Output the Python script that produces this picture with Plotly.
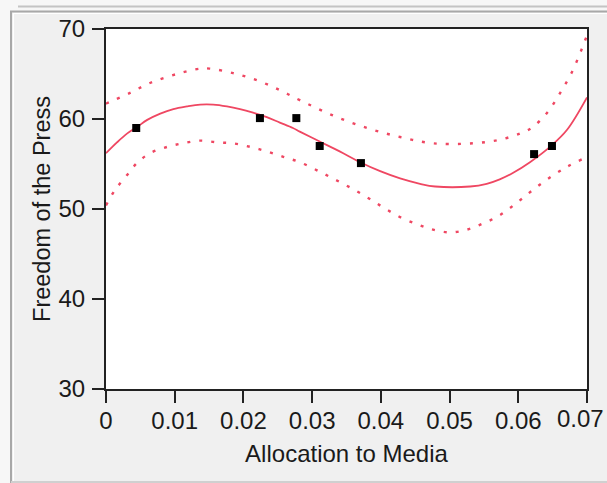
import plotly.graph_objects as go

# ---- data ----
media_x = [0.0044, 0.0224, 0.0277, 0.0311, 0.0371, 0.0623, 0.0649]
press_y = [59.0, 60.1, 60.1, 57.0, 55.1, 56.1, 57.0]

fit_x = [0.0, 0.0016, 0.0031, 0.0045, 0.0060, 0.0079, 0.0098, 0.0118, 0.0137, 0.0156,
         0.0176, 0.0195, 0.0214, 0.0234, 0.0253, 0.0272, 0.0282, 0.0311, 0.0340, 0.0370,
         0.0399, 0.0428, 0.0457, 0.0479, 0.0530, 0.0554, 0.0573, 0.0592, 0.0617, 0.0649,
         0.0671, 0.0700]
fit_y = [56.2, 57.4, 58.4, 59.1, 59.9, 60.6, 61.1, 61.4, 61.6, 61.6,
         61.4, 61.1, 60.7, 60.2, 59.6, 59.0, 58.6, 57.5, 56.4, 55.2,
         54.2, 53.4, 52.8, 52.5, 52.5, 52.8, 53.3, 54.0, 55.2, 57.1,
         58.8, 62.4]

upper_x = [0.0, 0.0006, 0.0035, 0.0064, 0.0103, 0.0137, 0.0151, 0.0185, 0.0220, 0.0253,
           0.0282, 0.0330, 0.0380, 0.0428, 0.0476, 0.0534, 0.0573, 0.0603, 0.0621, 0.0643,
           0.0661, 0.0678, 0.0693, 0.0700]
upper_y = [61.7, 61.9, 62.9, 64.0, 65.0, 65.6, 65.6, 65.1, 64.3, 63.2,
           62.1, 60.4, 59.0, 58.0, 57.3, 57.3, 57.7, 58.4, 59.1, 60.8,
           62.9, 65.2, 67.9, 69.3]

lower_x = [0.0, 0.0013, 0.0031, 0.0045, 0.0064, 0.0089, 0.0112, 0.0137, 0.0162, 0.0185,
           0.0210, 0.0234, 0.0258, 0.0282, 0.0307, 0.0330, 0.0355, 0.0380, 0.0403, 0.0428,
           0.0453, 0.0476, 0.0501, 0.0525, 0.0549, 0.0573, 0.0598, 0.0621, 0.0646, 0.0671,
           0.0695]
lower_y = [50.4, 52.1, 53.8, 55.1, 56.2, 56.9, 57.3, 57.6, 57.4, 57.3,
           56.9, 56.4, 55.8, 55.2, 54.3, 53.4, 52.4, 51.3, 50.2, 49.1,
           48.3, 47.7, 47.4, 47.7, 48.4, 49.3, 50.7, 52.1, 53.5, 54.7,
           55.6]

x_tickvals = [0, 0.01, 0.02, 0.03, 0.04, 0.05, 0.06, 0.07]
x_ticktext = ["0", "0.01", "0.02", "0.03", "0.04", "0.05", "0.06", "0.07"]
y_tickvals = [30, 40, 50, 60, 70]
y_ticktext = ["30", "40", "50", "60", "70"]

x_title = "Allocation to Media"
y_title = "Freedom of the Press"

# ---- figure ----
RED = "#ef4762"
FONT = "Liberation Sans, Arial, sans-serif"
FS = 24
INK = "#1a1a1a"
W, H = 607, 483
L, R, T, B = 106, 20, 29, 94

fig = go.Figure()
fig.add_trace(go.Scatter(x=upper_x, y=upper_y, mode="lines", line_shape="spline",
                         line=dict(color=RED, width=2.4, dash="3px,9px"),
                         hoverinfo="skip", showlegend=False))
fig.add_trace(go.Scatter(x=lower_x, y=lower_y, mode="lines", line_shape="spline",
                         line=dict(color=RED, width=2.4, dash="3px,9px"),
                         hoverinfo="skip", showlegend=False))
fig.add_trace(go.Scatter(x=fit_x, y=fit_y, mode="lines", line_shape="spline",
                         line=dict(color=RED, width=1.8),
                         showlegend=False))
fig.add_trace(go.Scatter(x=media_x, y=press_y, mode="markers",
                         marker=dict(symbol="square", size=8, color="black",
                                     line=dict(width=0)),
                         showlegend=False))

pw = W - L - R
ph = H - T - B


def px(xp):   # window pixel -> paper x
    return (xp - L) / pw


def py(yp):   # window pixel -> paper y
    return (H - B - yp) / ph


shapes = [
    dict(type="rect", xref="paper", yref="paper", x0=px(0), x1=px(607), y0=py(0), y1=py(11),
         line=dict(width=0), fillcolor="#f7f7f7", layer="below"),
    dict(type="rect", xref="paper", yref="paper", x0=px(0), x1=px(10), y0=py(0), y1=py(483),
         line=dict(width=0), fillcolor="#f7f7f7", layer="below"),
    dict(type="line", xref="paper", yref="paper", x0=px(18), x1=px(607), y0=py(6.5), y1=py(6.5),
         line=dict(color="#c4c4c4", width=2)),
    dict(type="line", xref="paper", yref="paper", x0=px(10), x1=px(607), y0=py(11.5), y1=py(11.5),
         line=dict(color="#a8a8a8", width=2)),
    dict(type="line", xref="paper", yref="paper", x0=px(11), x1=px(11), y0=py(11), y1=py(483),
         line=dict(color="#a8a8a8", width=2)),
    dict(type="line", xref="paper", yref="paper", x0=px(13.5), x1=px(13.5), y0=py(13.5), y1=py(481),
         line=dict(color="#ffffff", width=1)),
    dict(type="line", xref="paper", yref="paper", x0=px(13), x1=px(607), y0=py(13.5), y1=py(13.5),
         line=dict(color="#ffffff", width=1)),
    dict(type="line", xref="paper", yref="paper", x0=px(11), x1=px(607), y0=py(482), y1=py(482),
         line=dict(color="#d0d0d0", width=2)),
]

axis_common = dict(
    showgrid=False, zeroline=False, showline=True, linecolor="#222222", linewidth=2,
    mirror=True, ticks="outside", ticklen=12, tickwidth=2, tickcolor="#222222",
    tickfont=dict(family=FONT, size=FS, color=INK),
    automargin=False,
)

# last x tick label is kept inside the panel (right-aligned), as in the reference
x_labels_axis = x_ticktext[:-1] + [""]
annotations = [
    dict(text=x_ticktext[-1], x=x_tickvals[-1], xref="x", y=0, yref="paper",
         xanchor="right", yanchor="top", xshift=19, yshift=-14, showarrow=False,
         font=dict(family=FONT, size=FS, color=INK)),
]

fig.update_layout(
    width=W, height=H,
    margin=dict(l=L, r=R, t=T, b=B),
    paper_bgcolor="#f0f0f0", plot_bgcolor="white",
    shapes=shapes, annotations=annotations,
    xaxis=dict(range=[0, 0.07], tickvals=x_tickvals, ticktext=x_labels_axis,
               ticklabelstandoff=-3,
               title=dict(text=x_title, font=dict(family=FONT, size=FS, color=INK), standoff=12),
               **axis_common),
    yaxis=dict(range=[30, 70], tickvals=y_tickvals, ticktext=y_ticktext,
               ticklabelstandoff=2,
               title=dict(text=y_title, font=dict(family=FONT, size=FS - 0.5, color=INK), standoff=1),
               **axis_common),
)

fig.write_html(
    "out.html",
    config={"displayModeBar": False},
    post_script="document.body.style.margin='0';document.body.style.overflow='hidden';",
)
